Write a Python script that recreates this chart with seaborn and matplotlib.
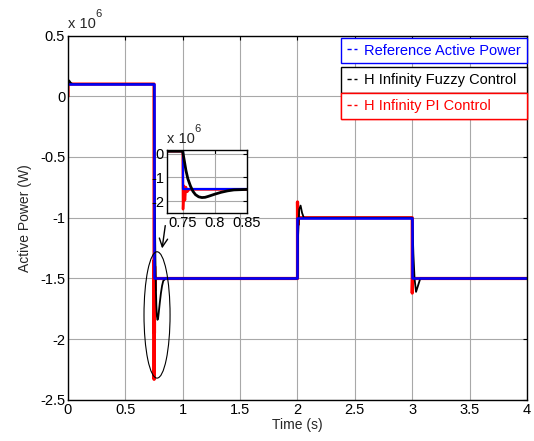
import numpy as np
import pandas as pd
import matplotlib
matplotlib.use('Agg')
import matplotlib.pyplot as plt
from matplotlib.lines import Line2D
from matplotlib.patches import Ellipse
import seaborn as sns

# Reference active power (W, x 1e6 below)
time_ref = [0, 0.75, 0.75, 2.0, 2.0, 3.0, 3.0, 4.0]
p_ref = [0.1, 0.1, -1.5, -1.5, -1.0, -1.0, -1.5, -1.5]

# H infinity fuzzy control
time_fuzzy = [0, 0.01, 0.025, 0.04, 0.75, 0.7525, 0.755, 0.758, 0.762, 0.766,
              0.77, 0.775, 0.78, 0.785, 0.79, 0.80, 0.81, 0.82, 0.83, 0.84,
              0.85, 2.0, 2.005, 2.015, 2.027, 2.04, 2.055, 3.0, 3.01, 3.02,
              3.033, 3.05, 3.07, 4.0]
p_fuzzy = [0.08, 0.13, 0.11, 0.1, 0.1, -0.3, -0.7, -1.05, -1.35, -1.58,
           -1.72, -1.81, -1.84, -1.83, -1.79, -1.70, -1.62, -1.56, -1.52, -1.51,
           -1.5, -1.5, -1.15, -0.93, -0.9, -0.96, -1.0, -1.0, -1.3, -1.5,
           -1.61, -1.56, -1.5, -1.5]

# H infinity PI control
time_pi = [0, 0, 0.75, 0.7505, 0.752, 0.7535, 0.755, 0.757, 0.76,
           2.0, 2.0, 2.003, 2.006, 2.01, 3.0, 3.0, 3.004, 3.008, 3.012, 4.0]
p_pi = [0, 0.1, 0.1, -2.33, -1.35, -1.95, -1.4, -1.6, -1.5,
        -1.5, -0.87, -1.06, -0.97, -1.0, -1.0, -1.62, -1.45, -1.52, -1.5, -1.5]

x_ticks = [0, 0.5, 1, 1.5, 2, 2.5, 3, 3.5, 4]
y_ticks = [0.5, 0, -0.5, -1, -1.5, -2, -2.5]
inset_x_ticks = [0.75, 0.8, 0.85]
inset_y_ticks = [0, -1, -2]

df_ref = pd.DataFrame({'t': time_ref, 'p': np.array(p_ref) * 1e6})
df_fuzzy = pd.DataFrame({'t': time_fuzzy, 'p': np.array(p_fuzzy) * 1e6})
df_pi = pd.DataFrame({'t': time_pi, 'p': np.array(p_pi) * 1e6})

sns.set_style('white')
plt.rcParams['font.family'] = ['Liberation Sans', 'DejaVu Sans']

fig = plt.figure(figsize=(5.34, 4.41), dpi=100)
ax = fig.add_axes([0.1273, 0.093, 0.8596, 0.8265])

fmt = plt.FuncFormatter(lambda v, p: f'{v / 1e6:g}')


def style_axes(a, xt, yt, fs):
    a.set_xticks(xt)
    a.set_yticks([v * 1e6 for v in yt])
    a.xaxis.set_major_formatter(plt.FuncFormatter(lambda v, p: f'{v:g}'))
    a.yaxis.set_major_formatter(fmt)
    a.grid(True, color='#a8a8a8', linewidth=0.8)
    a.tick_params(direction='in', top=True, right=True, length=3,
                  labelsize=fs, colors='black', pad=2)
    for s in a.spines.values():
        s.set_color('black')
        s.set_linewidth(1.0)
        s.set_visible(True)


sns.lineplot(data=df_pi, x='t', y='p', ax=ax, color='red', linewidth=2.3,
             estimator=None, sort=False, legend=False)
sns.lineplot(data=df_fuzzy, x='t', y='p', ax=ax, color='black', linewidth=1.3,
             estimator=None, sort=False, legend=False)
sns.lineplot(data=df_ref, x='t', y='p', ax=ax, color='blue', linewidth=1.8,
             estimator=None, sort=False, legend=False)

ax.set_xlim(0, 4)
ax.set_ylim(-2.5e6, 0.5e6)
style_axes(ax, x_ticks, y_ticks, 10.5)
ax.set_xlabel('Time (s)', fontsize=10, labelpad=1)
ax.set_ylabel('Active Power (W)', fontsize=10, labelpad=6)
ax.text(0.0, 1.012, 'x 10', transform=ax.transAxes, fontsize=10.5,
        ha='left', va='bottom')
ax.text(0.06, 1.045, '6', transform=ax.transAxes, fontsize=8,
        ha='left', va='bottom')

# ellipse + arrow around the transient
ax.add_patch(Ellipse((0.776, -1.80e6), 0.227, 1.04e6, fill=False,
                     edgecolor='black', linewidth=0.8, zorder=5))
ax.annotate('', xy=(0.817, -1.275e6), xytext=(0.851, -1.042e6),
            arrowprops=dict(arrowstyle='->,head_length=0.6,head_width=0.3',
                            color='black', lw=1.0), zorder=6)

# legends: three separate boxes
labels = ['Reference Active Power', 'H Infinity Fuzzy Control', 'H Infinity PI Control']
colors = ['blue', 'black', 'red']
tops = [0.994, 0.9135, 0.8415]
for lab, col, top in zip(labels, colors, tops):
    h = Line2D([], [], color=col, linestyle='--', linewidth=1.0, dashes=(3, 2))
    leg = ax.legend([h], [lab], loc='upper left',
                    bbox_to_anchor=(0.595, top - 0.07, 0.405, 0.07),
                    mode='expand', borderaxespad=0, fontsize=10.5,
                    handlelength=0.7, handletextpad=0.45, borderpad=0.4,
                    fancybox=False, framealpha=1, edgecolor=col)
    leg.get_frame().set_linewidth(1.0)
    leg.get_texts()[0].set_color(col)
    ax.add_artist(leg)

# inset zoom
axin = fig.add_axes([0.3122, 0.5163, 0.1498, 0.1435])
sns.lineplot(data=df_pi, x='t', y='p', ax=axin, color='red', linewidth=1.8,
             estimator=None, sort=False, legend=False)
sns.lineplot(data=df_ref, x='t', y='p', ax=axin, color='blue', linewidth=1.6,
             estimator=None, sort=False, legend=False)
sns.lineplot(data=df_fuzzy, x='t', y='p', ax=axin, color='black', linewidth=2.0,
             estimator=None, sort=False, legend=False)
axin.set_xlim(0.725, 0.85)
axin.set_ylim(-2.5e6, 0.15e6)
style_axes(axin, inset_x_ticks, inset_y_ticks, 10.5)
axin.set_xlabel('')
axin.set_ylabel('')
axin.text(0.0, 1.06, 'x 10', transform=axin.transAxes, fontsize=10.5,
          ha='left', va='bottom')
axin.text(0.34, 1.25, '6', transform=axin.transAxes, fontsize=8,
          ha='left', va='bottom')

fig.savefig('out.png', dpi=100)
